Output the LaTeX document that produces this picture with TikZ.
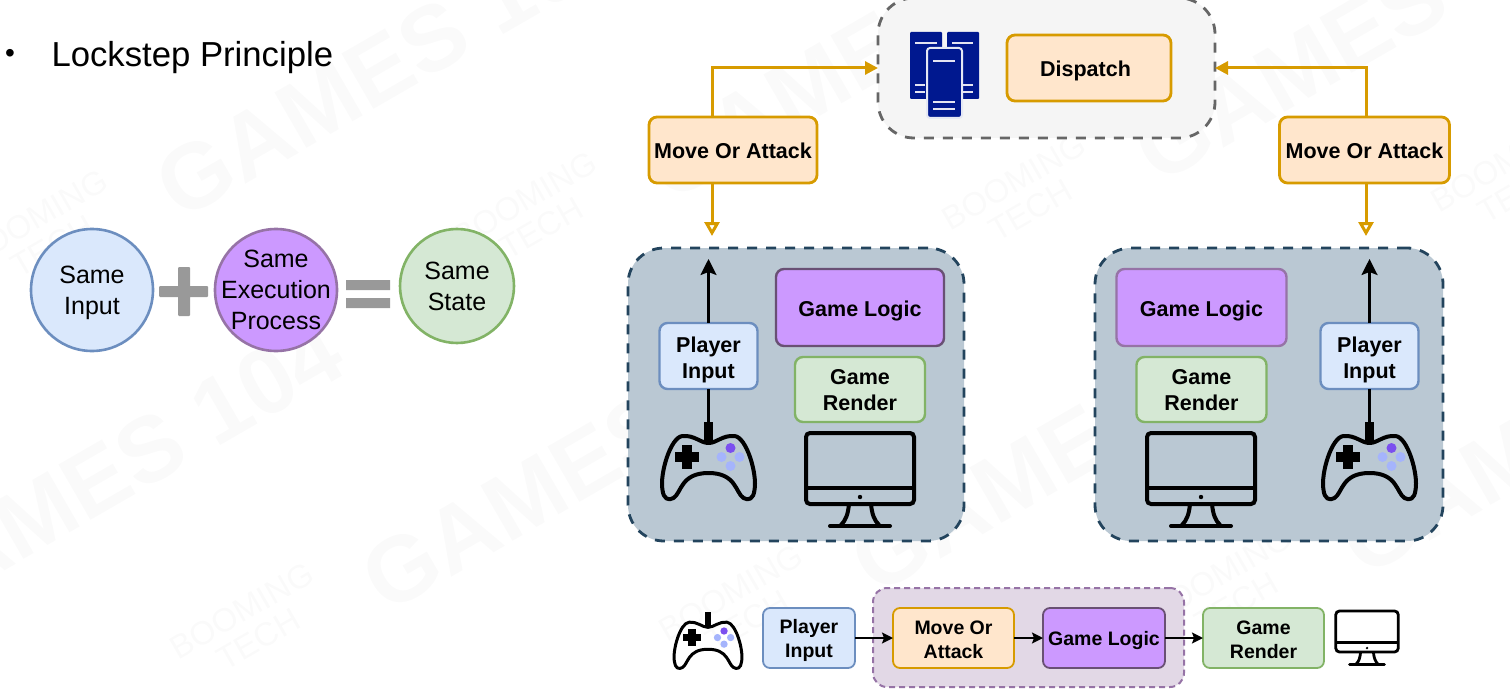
\documentclass[tikz,border=0pt]{standalone}
\usepackage{fontspec}
\setmainfont{Liberation Sans}
\usetikzlibrary{positioning,arrows.meta}
\definecolor{inputfill}{HTML}{DAE8FC}
\definecolor{inputline}{HTML}{6C8EBF}
\definecolor{logicfill}{HTML}{CC99FF}
\definecolor{logicline}{HTML}{9673A6}
\definecolor{renderfill}{HTML}{D5E8D4}
\definecolor{renderline}{HTML}{82B366}
\definecolor{movefill}{HTML}{FFE6CC}
\definecolor{moveline}{HTML}{D79B00}
\definecolor{clientfill}{HTML}{BAC8D3}
\definecolor{clientline}{HTML}{23445D}
\definecolor{serverblue}{HTML}{00188F}
\definecolor{serverbar}{HTML}{E4E4F2}
\definecolor{padbutton}{HTML}{A5B4FC}
\definecolor{padviolet}{HTML}{7B4FEF}
\tikzstyle{labelbox} = [rectangle, rounded corners=8pt, line width=2.4pt, outer sep=0pt,
    align=center, inner sep=0pt, font=\bfseries\fontsize{21.5}{26}\selectfont]
\tikzstyle{inputbox} = [labelbox, draw=inputline, fill=inputfill]
\tikzstyle{logicbox} = [labelbox, draw=logicline, fill=logicfill]
\tikzstyle{renderbox} = [labelbox, draw=renderline, fill=renderfill]
\tikzstyle{movebox} = [labelbox, draw=moveline, fill=movefill, line width=2.8pt]
\tikzstyle{smalltext} = [minimum height=60pt, rounded corners=7pt, line width=1.8pt,
    font=\fontsize{19.5}{24}\selectfont\bfseries]
\tikzstyle{bigpanel} = [rectangle, rounded corners=36pt, line width=2.8pt, outer sep=0pt,
    dash pattern=on 10pt off 9pt, minimum width=336pt, minimum height=293pt]
\tikzstyle{sumcircle} = [circle, line width=2.6pt, inner sep=-20pt, align=center,
    font=\fontsize{25}{31}\selectfont]
\tikzstyle{orangeline} = [draw=moveline, line width=3pt]
\tikzstyle{filledtip} = [-{Triangle[length=13pt,width=13pt]}]
\tikzstyle{hollowtip} = [-{Triangle[open,length=14pt,width=15pt]}]
\tikzstyle{blackline} = [draw=black, line width=2.5pt, -{Stealth[length=16pt,width=16pt,inset=3pt]}]
\tikzstyle{chainline} = [draw=black, line width=2pt, -{Stealth[length=11pt,width=11pt,inset=2pt]}]
\tikzset{
  gamepad/.pic={
    \draw[line join=round] (0,-25) .. controls (-8,-25) and (-14,-33) .. (-26,-32)
      .. controls (-38,-31) and (-49,6) .. (-46,22) .. controls (-45,31) and (-40,33) .. (-35,30)
      .. controls (-27,25) and (-28,5) .. (0,5) .. controls (28,5) and (27,25) .. (35,30)
      .. controls (40,33) and (45,31) .. (46,22) .. controls (49,6) and (38,-31) .. (26,-32)
      .. controls (14,-33) and (8,-25) .. (0,-25) -- cycle;
    \fill (-4.5,-46) rectangle (4.5,-25);
    \fill (-27,-23) rectangle (-17,1);
    \fill (-34,-16) rectangle (-10,-6);
    \fill[padbutton] (13,-11) circle (5) (31,-11) circle (5) (22,-2) circle (5);
    \fill[padviolet] (22,-20) circle (5);
    \coordinate (-cable) at (0,-44);
  },
  monitor/.pic={
    \draw[rounded corners=4] (-54,-45) rectangle (54,26);
    \draw (-54,10) -- (54,10);
    \fill (0,19) circle (2.2);
    \draw (-11,26) .. controls (-12,36) and (-14,42) .. (-19,47);
    \draw (11,26) .. controls (12,36) and (14,42) .. (19,47);
    \draw[line cap=round] (-30,48) -- (30,48);
  }
}
\begin{document}
\begin{tikzpicture}[x=1pt,y=-1pt]
\useasboundingbox (0,0) rectangle (1510,698);

% faint marks behind everything
\foreach \px/\py [count=\i] in {391/63,108/474,597/456,880/45,1086/438,1369/27,1575/420}
  \node[rotate=30, text=black!1.8, font=\bfseries\fontsize{93}{93}\selectfont] (games\i) at (\px,\py) {GAMES 104};
\foreach \px/\py [count=\i] in {250/625,739/607,1228/589,44/232,533/214,1022/196,1511/178}
  \node[rotate=30, text=black!2, align=center, font=\fontsize{33}{33}\selectfont] (boom\i) at (\px,\py) {BOOMING\\TECH};

% title
\node[font=\fontsize{28}{30}\selectfont] (dot) at (10,56) {•};
\node[anchor=base west, font=\fontsize{34.7}{38}\selectfont] (title) at (48,67) {Lockstep Principle};

% same input + same process = same state
\node[sumcircle, draw=inputline, fill=inputfill, minimum size=122pt, text height=55pt] (sameinput) at (92,290) {Same\\Input};
\node[sumcircle, draw=logicline, fill=logicfill, minimum size=122pt] (sameprocess) at (276,290) {Same\\Execution\\Process};
\node[sumcircle, draw=renderline, fill=renderfill, minimum size=114pt] (samestate) at (457,286) {Same\\State};
\fill[black!40, rounded corners=1pt] (159,286) rectangle (208,297) (178,267) rectangle (190,316);
\fill[black!40] (346,280) rectangle (390,290) (346,298) rectangle (390,308);

% server
\node[bigpanel, draw=black!60, fill=black!4, minimum width=337pt, minimum height=140pt] (server) at (1046.5,68) {};
\node[movebox, minimum width=164pt, minimum height=66pt, text height=21.7pt] (dispatch) at (1089,68) {Dispatch\hspace*{7pt}};
\foreach \sx in {910,947}
  \fill[serverblue, rounded corners=1pt] (\sx,32) rectangle +(32,67);
\draw[serverbar, line width=2.4pt] (915,43) -- (937,43) (952,43) -- (973,43);
\draw[serverbar, line width=2.4pt] (915,85) -- (925,85) (915,92) -- (925,92) (963,85) -- (973,85) (963,92) -- (973,92);
\fill[serverblue, draw=white!90!serverblue, line width=2pt, rounded corners=3pt] (927,48) rectangle (962,118);
\foreach \ly in {61,102,109}
  \draw[serverbar, line width=2.4pt] (933,\ly) -- (955,\ly);

% left client
\node[bigpanel, draw=clientline, fill=clientfill] (clientL) at (796,394.5) {};
\node[logicbox, draw=logicline!70!black, minimum width=168pt, minimum height=77pt, text height=21.7pt] (logicL) at (860,307.5) {Game Logic};
\node[renderbox, minimum width=130pt, minimum height=65pt, text height=42.7pt, below=11pt of logicL] (renderL) {Game\\Render};
\node[inputbox, minimum width=98pt, minimum height=66pt, text height=49.7pt] (inputL) at (708.5,356) {Player\\Input};
\coordinate (tipL) at (708.5,259);
\pic[line width=4pt] (padL) at (708.5,468) {gamepad};
\pic[line width=4pt] (screenL) at (860,478) {monitor};
\draw[blackline] (inputL) -- (tipL);
\draw[line width=2.5pt] (inputL) -- (padL-cable);

% right client
\node[bigpanel, draw=clientline, fill=clientfill, minimum width=348pt] (clientR) at (1269,394.5) {};
\node[logicbox, minimum width=170pt, minimum height=77pt, text height=21.7pt] (logicR) at (1201.5,307.5) {Game Logic};
\node[renderbox, minimum width=130pt, minimum height=65pt, text height=42.7pt, below=11pt of logicR] (renderR) {Game\\Render};
\node[inputbox, minimum width=98pt, minimum height=66pt, text height=49.7pt] (inputR) at (1369.5,356) {Player\\Input};
\coordinate (tipR) at (1369.5,259);
\pic[line width=4pt] (padR) at (1369.5,468) {gamepad};
\pic[line width=4pt] (screenR) at (1201,478) {monitor};
\draw[blackline] (inputR) -- (tipR);
\draw[line width=2.5pt] (inputR) -- (padR-cable);

% move or attack
\node[movebox, minimum width=168pt, minimum height=66pt, text height=17.7pt] (moveL) at (733,150) {Move Or Attack};
\node[movebox, minimum width=170pt, minimum height=66pt, text height=17.7pt] (moveR) at (1364.5,150) {Move Or Attack};
\coordinate (dropL) at (712,236);
\coordinate (dropR) at (1366,236);
\draw[orangeline, filledtip] ([xshift=-21pt]moveL.north) |- (server.west);
\draw[orangeline, filledtip] ([xshift=1.5pt]moveR.north) |- (server.east);
\draw[orangeline, hollowtip] ([xshift=-21pt]moveL.south) -- (dropL);
\draw[orangeline, hollowtip] ([xshift=1.5pt]moveR.south) -- (dropR);

% bottom chain
\node[rectangle, rounded corners=14pt, draw=logicline, fill=logicline!28!white, line width=2pt,
    dash pattern=on 6pt off 4pt, minimum width=311pt, minimum height=99pt] (chainbox) at (1028.5,637.5) {};
\node[inputbox, smalltext, minimum width=92pt, text height=42.3pt] (inputB) at (809,638) {Player\\Input};
\node[movebox, smalltext, minimum width=121pt, text height=40.3pt] (moveB) at (953.5,638) {Move Or\\Attack};
\node[logicbox, smalltext, draw=logicline!70!black, minimum width=122pt, text height=18.3pt] (logicB) at (1104,638) {Game Logic};
\node[renderbox, smalltext, minimum width=121pt, text height=40.3pt] (renderB) at (1263.5,638) {Game\\Render};
\draw[chainline] (inputB) -- (moveB);
\draw[chainline] (moveB) -- (logicB);
\draw[chainline] (logicB) -- (renderB);
\pic[scale=.73, line width=3pt] (padB) at (708,645.6) {gamepad};
\pic[scale=.58, line width=2.8pt] (screenB) at (1367,637) {monitor};

\end{tikzpicture}
\end{document}
